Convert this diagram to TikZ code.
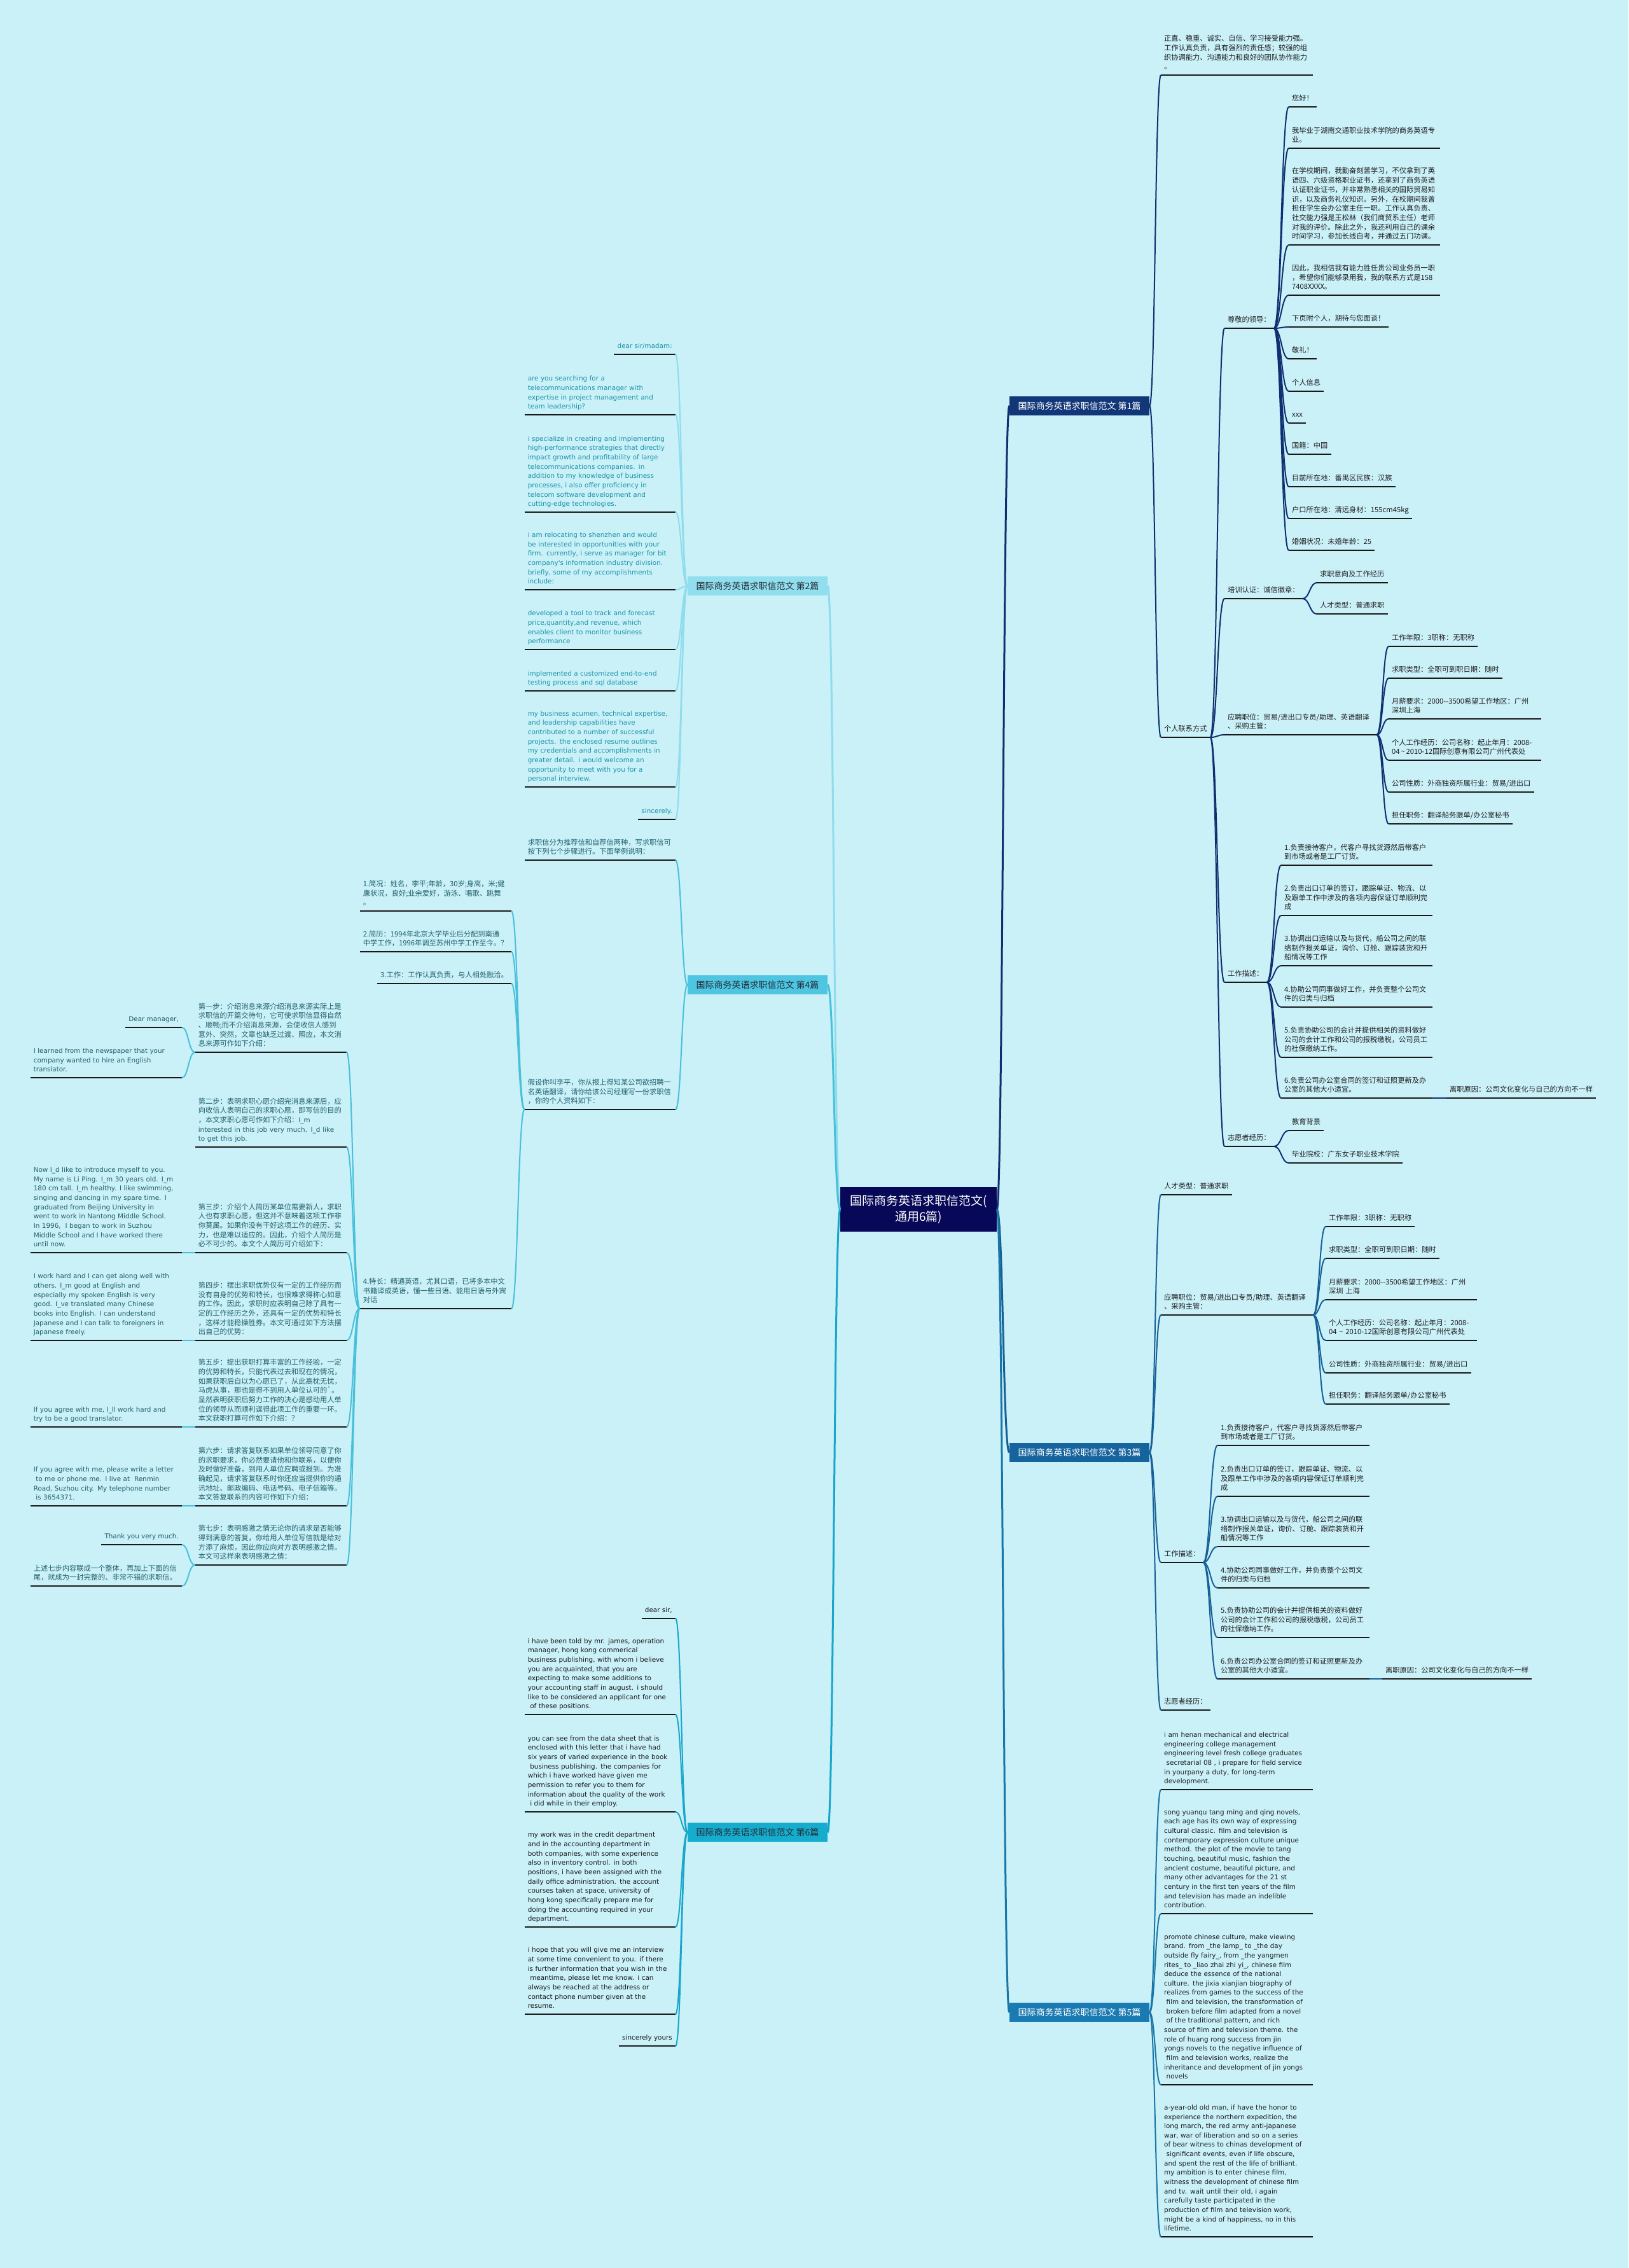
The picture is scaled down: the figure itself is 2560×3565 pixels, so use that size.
\documentclass[tikz,border=0pt]{standalone}
\usepackage{fontspec}
\setmainfont{DejaVu Sans}
\newfontfamily\cjk{Noto Sans CJK SC}
\newfontfamily\enf{DejaVu Sans}
\usetikzlibrary{calc}
\definecolor{bgc}{RGB}{202,240,248}
\definecolor{cen}{RGB}{8,8,88}
\definecolor{fA}{RGB}{18,55,120}
\definecolor{fC}{RGB}{22,100,158}
\definecolor{fE}{RGB}{26,122,178}
\definecolor{fB}{RGB}{145,222,238}
\definecolor{fD}{RGB}{78,197,225}
\definecolor{fF}{RGB}{22,172,206}
\definecolor{lA}{RGB}{14,48,112}
\definecolor{lC}{RGB}{22,96,152}
\definecolor{lE}{RGB}{24,118,168}
\definecolor{lB}{RGB}{142,220,236}
\definecolor{lD}{RGB}{72,192,218}
\definecolor{lF}{RGB}{24,166,202}
\definecolor{ulc}{RGB}{25,25,25}
\definecolor{tR}{RGB}{30,30,30}
\definecolor{tB}{RGB}{28,148,168}
\definecolor{tD}{RGB}{32,96,108}
\definecolor{tF}{RGB}{25,25,25}
\definecolor{tL}{RGB}{35,45,55}
\newcommand\lsp{\hspace*{3.5pt}}
\newcommand\EN{\enf\fontsize{10.4}{14.65}\selectfont}
\tikzset{
  zh/.style={font=\cjk\fontsize{11.25}{14.7}\selectfont},
  en/.style={font=\enf\fontsize{10.4}{14.65}\selectfont},
  tn/.style={inner xsep=5pt, inner ysep=6pt,
    execute at begin node={\hyphenpenalty=10000\exhyphenpenalty=10000},
    execute at end node={\rule[-3pt]{0pt}{3pt}}},
  R/.style={tn, anchor=south west, align=left},
  L/.style={tn, anchor=south east, align=left},
  Lr/.style={tn, anchor=south east, align=right},
  mm/.style={to path={let \p1=(\tikztostart), \p2=(\tikztotarget) in
      .. controls ({(\x1+\x2)/2},\y1) and ({(\x1+\x2)/2},\y2) .. (\tikztotarget)}},
  lk/.style={line width=2pt, mm},
  lkc/.style={line width=3pt, mm},
  ul/.style={line width=2pt, draw=ulc},
  lvl/.style={minimum width=220pt, minimum height=30pt, inner sep=0pt,
    font=\cjk\fontsize{14}{16}\selectfont},
}
\begin{document}
\begin{tikzpicture}[x=1pt,y=-1pt]
\fill[bgc] (0,0) rectangle (2560,3565);
\path[use as bounding box] (0,0) rectangle (2560,3565);

% ---------- centre and main branches ----------
\node[fill=cen, text=white, font=\cjk\fontsize{19}{25}\selectfont, minimum width=246pt,
  minimum height=70pt, inner sep=0pt, align=center] (C) at (1444,1901)
  {国际商务英语求职信范文(\\通用6篇)};
\node[lvl, fill=fA, text=white] (B1) at (1697,638) {国际商务英语求职信范文 第1篇};
\node[lvl, fill=fC, text=white] (B3) at (1697,2283) {国际商务英语求职信范文 第3篇};
\node[lvl, fill=fE, text=white] (B5) at (1697,3163) {国际商务英语求职信范文 第5篇};
\node[lvl, fill=fB, text=tL] (B2) at (1191,921) {国际商务英语求职信范文 第2篇};
\node[lvl, fill=fD, text=tL] (B4) at (1191,1548) {国际商务英语求职信范文 第4篇};
\node[lvl, fill=fF, text=tL] (B6) at (1191,2880) {国际商务英语求职信范文 第6篇};

% ---------- branch 1 ----------
\begin{scope}[every node/.append style={text=tR}]
\node[R,zh,text width=229pt] (a1) at (1825,118) {正直、稳重、诚实、自信、学习接受能力强。\\工作认真负责，具有强烈的责任感；较强的组\\织协调能力、沟通能力和良好的团队协作能力\\。};
\node[R,zh] (a2) at (1825,1159) {个人联系方式};
\node[R,zh] (a21) at (1925,516) {尊敬的领导：};
\node[R,zh] (a22) at (1925,941) {培训认证：诚信徽章：};
\node[R,zh,text width=229pt] (a23) at (1925,1155) {应聘职位：贸易/进出口专员/助理、英语翻译\\、采购主管：};
\node[R,zh] (a24) at (1925,1544) {工作描述：};
\node[R,zh] (a25) at (1925,1802) {志愿者经历：};

\node[R,zh] (z1) at (2026,168) {您好！};
\node[R,zh,text width=228pt] (z2) at (2026,233) {我毕业于湖南交通职业技术学院的商务英语专\\业。};
\node[R,zh,text width=228pt] (z3) at (2026,385) {在学校期间，我勤奋刻苦学习，不仅拿到了英\\语四、六级资格职业证书，还拿到了商务英语\\认证职业证书，并非常熟悉相关的国际贸易知\\识，以及商务礼仪知识。另外，在校期间我曾\\担任学生会办公室主任一职。工作认真负责、\\社交能力强是王松林（我们商贸系主任）老师\\对我的评价。除此之外，我还利用自己的课余\\时间学习，参加长线自考，并通过五门功课。};
\node[R,zh,text width=228pt] (z4) at (2026,464) {因此，我相信我有能力胜任贵公司业务员一职\\，希望你们能够录用我，我的联系方式是158\\7408XXXX。};
\node[R,zh] (z5) at (2026,514) {下页附个人，期待与您面谈！};
\node[R,zh] (z6) at (2026,564) {敬礼！};
\node[R,zh] (z7) at (2026,615) {个人信息};
\node[R,zh] (z8) at (2026,665) {xxx};
\node[R,zh] (z9) at (2026,714) {国籍：中国};
\node[R,zh] (z10) at (2026,765) {目前所在地：番禺区民族：汉族};
\node[R,zh] (z11) at (2026,815) {户口所在地：清远身材：155cm45kg};
\node[R,zh] (z12) at (2026,865) {婚姻状况：未婚年龄：25};

\node[R,zh] (p1) at (2070,916) {求职意向及工作经历};
\node[R,zh] (p2) at (2070,965) {人才类型：普通求职};

\node[R,zh] (q1) at (2183,1016) {工作年限：3职称：无职称};
\node[R,zh] (q2) at (2183,1066) {求职类型：全职可到职日期：随时};
\node[R,zh,text width=230pt] (q3) at (2183,1130) {月薪要求：2000-{}-3500希望工作地区：广州\\深圳上海};
\node[R,zh,text width=230pt] (q4) at (2183,1195) {个人工作经历：公司名称：起止年月：2008-\\04\,\textasciitilde\,2010-12国际创意有限公司广州代表处};
\node[R,zh] (q5) at (2183,1245) {公司性质：外商独资所属行业：贸易/进出口};
\node[R,zh] (q6) at (2183,1295) {担任职务：翻译船务跟单/办公室秘书};

\node[R,zh,text width=228pt] (w1) at (2014,1360) {1.负责接待客户，代客户寻找货源然后带客户\\到市场或者是工厂订货。};
\node[R,zh,text width=228pt] (w2) at (2014,1439) {2.负责出口订单的签订，跟踪单证、物流、以\\及跟单工作中涉及的各项内容保证订单顺利完\\成};
\node[R,zh,text width=228pt] (w3) at (2014,1518) {3.协调出口运输以及与货代，船公司之间的联\\络制作报关单证，询价、订舱、跟踪装货和开\\船情况等工作};
\node[R,zh,text width=228pt] (w4) at (2014,1583) {4.协助公司同事做好工作，并负责整个公司文\\件的归类与归档};
\node[R,zh,text width=228pt] (w5) at (2014,1662) {5.负责协助公司的会计并提供相关的资料做好\\公司的会计工作和公司的报税缴税，公司员工\\的社保缴纳工作。};
\node[R,zh,text width=228pt] (w6) at (2014,1726) {6.负责公司办公室合同的签订和证照更新及办\\公室的其他大小适宜。};
\node[R,zh] (w7) at (2274,1726) {离职原因：公司文化变化与自己的方向不一样};

\node[R,zh] (v1) at (2026,1777) {教育背景};
\node[R,zh] (v2) at (2026,1828) {毕业院校：广东女子职业技术学院};

% ---------- branch 3 ----------
\node[R,zh] (m1) at (1825,1878) {人才类型：普通求职};
\node[R,zh,text width=229pt] (m2) at (1825,2067) {应聘职位：贸易/进出口专员/助理、英语翻译\\、采购主管：};
\node[R,zh] (m3) at (1825,2456) {工作描述：};
\node[R,zh] (m4) at (1825,2688) {志愿者经历：};

\node[R,zh] (n1) at (2084,1928) {工作年限：3职称：无职称};
\node[R,zh] (n2) at (2084,1978) {求职类型：全职可到职日期：随时};
\node[R,zh,text width=228pt] (n3) at (2084,2043) {月薪要求：2000-{}-3500希望工作地区：广州\\深圳 上海};
\node[R,zh,text width=228pt] (n4) at (2084,2107) {个人工作经历：公司名称：起止年月：2008-\\04 \textasciitilde{} 2010-12国际创意有限公司广州代表处};
\node[R,zh] (n5) at (2084,2158) {公司性质：外商独资所属行业：贸易/进出口};
\node[R,zh] (n6) at (2084,2207) {担任职务：翻译船务跟单/办公室秘书};

\node[R,zh,text width=229pt] (o1) at (1914,2272) {1.负责接待客户，代客户寻找货源然后带客户\\到市场或者是工厂订货。};
\node[R,zh,text width=229pt] (o2) at (1914,2352) {2.负责出口订单的签订，跟踪单证、物流、以\\及跟单工作中涉及的各项内容保证订单顺利完\\成};
\node[R,zh,text width=229pt] (o3) at (1914,2431) {3.协调出口运输以及与货代，船公司之间的联\\络制作报关单证，询价、订舱、跟踪装货和开\\船情况等工作};
\node[R,zh,text width=229pt] (o4) at (1914,2496) {4.协助公司同事做好工作，并负责整个公司文\\件的归类与归档};
\node[R,zh,text width=229pt] (o5) at (1914,2574) {5.负责协助公司的会计并提供相关的资料做好\\公司的会计工作和公司的报税缴税，公司员工\\的社保缴纳工作。};
\node[R,zh,text width=229pt] (o6) at (1914,2639) {6.负责公司办公室合同的签订和证照更新及办\\公室的其他大小适宜。};
\node[R,zh] (o7) at (2173,2639) {离职原因：公司文化变化与自己的方向不一样};

% ---------- branch 5 ----------
\node[R,en,text width=229pt] (e1) at (1825,2813) {i am henan mechanical and electrical\\engineering college management\\engineering level fresh college graduates\\\lsp secretarial 08 , i prepare for field service\\in yourpany a duty, for long-term\\development.};
\node[R,en,text width=229pt] (e2) at (1825,3008) {song yuanqu tang ming and qing novels,\\each age has its own way of expressing\\cultural classic. film and television is\\contemporary expression culture unique\\method. the plot of the movie to tang\\touching, beautiful music, fashion the\\ancient costume, beautiful picture, and\\many other advantages for the 21 st\\century in the first ten years of the film\\and television has made an indelible\\contribution.};
\node[R,en,text width=229pt] (e3) at (1825,3277) {promote chinese culture, make viewing\\brand. from \_the lamp\_ to \_the day\\outside fly fairy\_, from \_the yangmen\\rites\_ to \_liao zhai zhi yi\_, chinese film\\deduce the essence of the national\\culture. the jixia xianjian biography of\\realizes from games to the success of the\\\lsp film and television, the transformation of\\\lsp broken before film adapted from a novel\\\lsp of the traditional pattern, and rich\\source of film and television theme. the\\role of huang rong success from jin\\yongs novels to the negative influence of\\\lsp film and television works, realize the\\inheritance and development of jin yongs\\\lsp novels};
\node[R,en,text width=229pt] (e4) at (1825,3516) {a-year-old old man, if have the honor to\\experience the northern expedition, the\\long march, the red army anti-japanese\\war, war of liberation and so on a series\\of bear witness to chinas development of\\\lsp significant events, even if life obscure,\\and spent the rest of the life of brilliant.\\my ambition is to enter chinese film,\\witness the development of chinese film\\and tv. wait until their old, i again\\carefully taste participated in the\\production of film and television work,\\might be a kind of happiness, no in this\\lifetime.};
\end{scope}

% ---------- branch 2 ----------
\begin{scope}[every node/.append style={text=tB}]
\node[Lr,en] (d1) at (1062,557) {dear sir/madam:};
\node[L,en,text width=227pt] (d2) at (1062,652) {are you searching for a\\telecommunications manager with\\expertise in project management and\\team leadership?};
\node[L,en,text width=227pt] (d3) at (1062,805) {i specialize in creating and implementing\\high-performance strategies that directly\\impact growth and profitability of large\\telecommunications companies. in\\addition to my knowledge of business\\processes, i also offer proficiency in\\telecom software development and\\cutting-edge technologies.};
\node[L,en,text width=227pt] (d4) at (1062,927) {i am relocating to shenzhen and would\\be interested in opportunities with your\\firm. currently, i serve as manager for bit\\company's information industry division.\\briefly, some of my accomplishments\\include:};
\node[L,en,text width=227pt] (d5) at (1062,1021) {developed a tool to track and forecast\\price,quantity,and revenue, which\\enables client to monitor business\\performance};
\node[L,en,text width=227pt] (d6) at (1062,1086) {implemented a customized end-to-end\\testing process and sql database};
\node[L,en,text width=227pt] (d7) at (1062,1237) {my business acumen, technical expertise,\\and leadership capabilities have\\contributed to a number of successful\\projects. the enclosed resume outlines\\my credentials and accomplishments in\\greater detail. i would welcome an\\opportunity to meet with you for a\\personal interview.};
\node[Lr,en] (d8) at (1062,1288) {sincerely.};
\end{scope}

% ---------- branch 4 ----------
\begin{scope}[every node/.append style={text=tD}]
\node[L,zh,text width=227pt] (f1) at (1062,1352) {求职信分为推荐信和自荐信两种，写求职信可\\按下列七个步骤进行。下面举例说明：};
\node[L,zh,text width=227pt] (f2) at (1062,1744) {假设你叫李平，你从报上得知某公司欲招聘一\\名英语翻译，请你给该公司经理写一份求职信\\，你的个人资料如下：};
\node[L,zh,text width=228pt] (f21) at (804,1432) {1.简况：姓名，李平;年龄，30岁;身高，米;健\\康状况，良好;业余爱好，游泳、唱歌、跳舞\\。};
\node[L,zh,text width=228pt] (f22) at (804,1496) {2.简历：1994年北京大学毕业后分配到南通\\中学工作，1996年调至苏州中学工作至今。？};
\node[Lr,zh] (f23) at (804,1546) {3.工作：工作认真负责，与人相处融洽。};
\node[L,zh,text width=228pt] (f24) at (804,2057) {4.特长：精通英语，尤其口语，已将多本中文\\书籍译成英语，懂一些日语、能用日语与外宾\\对话};

\node[L,zh,text width=228pt] (s1) at (545,1654) {第一步：介绍消息来源介绍消息来源实际上是\\求职信的开篇交待句，它可使求职信显得自然\\、顺畅;而不介绍消息来源，会使收信人感到\\意外、突然，文章也缺乏过渡、照应，本文消\\息来源可作如下介绍：};
\node[L,zh,text width=228pt] (s2) at (545,1803) {第二步：表明求职心愿介绍完消息来源后，应\\向收信人表明自己的求职心愿，即写信的目的\\，本文求职心愿可作如下介绍：{\EN I\_m}\\{\EN interested in this job very much. I\_d like}\\{\EN to get this job.}};
\node[L,zh,text width=228pt] (s3) at (545,1969) {第三步：介绍个人简历某单位需要新人，求职\\人也有求职心愿，但这并不意味着这项工作非\\你莫属。如果你没有干好这项工作的经历、实\\力，也是难以适应的。因此，介绍个人简历是\\必不可少的。本文个人简历可介绍如下：};
\node[L,zh,text width=228pt] (s4) at (545,2107) {第四步：摆出求职优势仅有一定的工作经历而\\没有自身的优势和特长，也很难求得称心如意\\的工作。因此，求职时应表明自己除了具有一\\定的工作经历之外，还具有一定的优势和特长\\，这样才能稳操胜券。本文可通过如下方法摆\\出自己的优势：};
\node[L,zh,text width=228pt] (s5) at (545,2243) {第五步：提出获职打算丰富的工作经验，一定\\的优势和特长，只能代表过去和现在的情况，\\如果获职后自以为心愿已了，从此高枕无忧，\\马虎从事，那也是得不到用人单位认可的\textasciigrave。\\显然表明获职后努力工作的决心是感动用人单\\位的领导从而顺利谋得此项工作的重要一环。\\本文获职打算可作如下介绍：？};
\node[L,zh,text width=228pt] (s6) at (545,2367) {第六步：请求答复联系如果单位领导同意了你\\的求职要求，你必然要请他和你联系，以便你\\及时做好准备，到用人单位应聘或报到。为准\\确起见，请求答复联系时你还应当提供你的通\\讯地址、邮政编码、电话号码、电子信箱等。\\本文答复联系的内容可作如下介绍：};
\node[L,zh,text width=228pt] (s7) at (545,2460) {第七步：表明感激之情无论你的请求是否能够\\得到满意的答复，你给用人单位写信就是给对\\方添了麻烦，因此你应向对方表明感激之情。\\本文可这样来表明感激之情：};

\node[Lr,en] (s11) at (286,1615) {Dear manager,};
\node[L,en,text width=228pt] (s12) at (286,1694) {I learned from the newspaper that your\\company wanted to hire an English\\translator.};
\node[L,en,text width=228pt] (s31) at (286,1969) {Now I\_d like to introduce myself to you.\\My name is Li Ping. I\_m 30 years old. I\_m\\180 cm tall. I\_m healthy. I like swimming,\\singing and dancing in my spare time. I\\graduated from Beijing University in\\went to work in Nantong Middle School.\\In 1996,\ \ I began to work in Suzhou\\Middle School and I have worked there\\until now.};
\node[L,en,text width=228pt] (s41) at (286,2107) {I work hard and I can get along well with\\others. I\_m good at English and\\especially my spoken English is very\\good. I\_ve translated many Chinese\\books into English. I can understand\\Japanese and I can talk to foreigners in\\Japanese freely.};
\node[L,en,text width=228pt] (s51) at (286,2243) {If you agree with me, I\_ll work hard and\\try to be a good translator.};
\node[L,en,text width=228pt] (s61) at (286,2367) {If you agree with me, please write a letter\\\lsp to me or phone me. I live at\ \ Renmin\\Road, Suzhou city. My telephone number\\\lsp is 3654371.};
\node[Lr,en] (s71) at (286,2428) {Thank you very much.};
\node[L,zh,text width=228pt] (s72) at (286,2493) {上述七步内容联成一个整体，再加上下面的信\\尾，就成为一封完整的、非常不错的求职信。};
\end{scope}

% ---------- branch 6 ----------
\begin{scope}[every node/.append style={text=tF}]
\node[Lr,en] (g1) at (1062,2544) {dear sir,};
\node[L,en,text width=227pt] (g2) at (1062,2695) {i have been told by mr. james, operation\\manager, hong kong commerical\\business publishing, with whom i believe\\you are acquainted, that you are\\expecting to make some additions to\\your accounting staff in august. i should\\like to be considered an applicant for one\\\lsp of these positions.};
\node[L,en,text width=227pt] (g3) at (1062,2848) {you can see from the data sheet that is\\enclosed with this letter that i have had\\six years of varied experience in the book\\\lsp business publishing. the companies for\\which i have worked have given me\\permission to refer you to them for\\information about the quality of the work\\\lsp i did while in their employ.};
\node[L,en,text width=227pt] (g4) at (1062,3029) {my work was in the credit department\\and in the accounting department in\\both companies, with some experience\\also in inventory control. in both\\positions, i have been assigned with the\\daily office administration. the account\\courses taken at space, university of\\hong kong specifically prepare me for\\doing the accounting required in your\\department.};
\node[L,en,text width=227pt] (g5) at (1062,3166) {i hope that you will give me an interview\\at some time convenient to you. if there\\is further information that you wish in the\\\lsp meantime, please let me know. i can\\always be reached at the address or\\contact phone number given at the\\resume.};
\node[Lr,en] (g6) at (1062,3216) {sincerely yours};
\end{scope}

% ---------- underlines ----------
\foreach \n in {a1,a2,a21,a22,a23,a24,a25,z1,z2,z3,z4,z5,z6,z7,z8,z9,z10,z11,z12,p1,p2,q1,q2,q3,q4,q5,q6,w1,w2,w3,w4,w5,w6,w7,v1,v2,m1,m2,m3,m4,n1,n2,n3,n4,n5,n6,o1,o2,o3,o4,o5,o6,o7,e1,e2,e3,e4,d1,d2,d3,d4,d5,d6,d7,d8,f1,f2,f21,f22,f23,f24,s1,s2,s3,s4,s5,s6,s7,s11,s12,s31,s41,s51,s61,s71,s72,g1,g2,g3,g4,g5,g6}
  \draw[ul] (\n.south west) -- (\n.south east);

% ---------- connectors ----------
\draw[lkc, draw=lA] (C.east) to (B1.west);
\draw[lkc, draw=lC] (C.east) to (B3.west);
\draw[lkc, draw=lE] (C.east) to (B5.west);
\draw[lkc, draw=lB] (C.west) to (B2.east);
\draw[lkc, draw=lD] (C.west) to (B4.east);
\draw[lkc, draw=lF] (C.west) to (B6.east);

\foreach \t in {a1,a2} \draw[lk, draw=lA] (B1.east) to (\t.south west);
\foreach \t in {a21,a22,a23,a24,a25} \draw[lk, draw=lA] (a2.south east) to (\t.south west);
\foreach \t in {z1,z2,z3,z4,z5,z6,z7,z8,z9,z10,z11,z12} \draw[lk, draw=lA] (a21.south east) to (\t.south west);
\foreach \t in {p1,p2} \draw[lk, draw=lA] (a22.south east) to (\t.south west);
\foreach \t in {q1,q2,q3,q4,q5,q6} \draw[lk, draw=lA] (a23.south east) to (\t.south west);
\foreach \t in {w1,w2,w3,w4,w5,w6} \draw[lk, draw=lA] (a24.south east) to (\t.south west);
\draw[lk, draw=lA] (w6.south east) to (w7.south west);
\foreach \t in {v1,v2} \draw[lk, draw=lA] (a25.south east) to (\t.south west);

\foreach \t in {m1,m2,m3,m4} \draw[lk, draw=lC] (B3.east) to (\t.south west);
\foreach \t in {n1,n2,n3,n4,n5,n6} \draw[lk, draw=lC] (m2.south east) to (\t.south west);
\foreach \t in {o1,o2,o3,o4,o5,o6} \draw[lk, draw=lC] (m3.south east) to (\t.south west);
\draw[lk, draw=lC] (o6.south east) to (o7.south west);

\foreach \t in {e1,e2,e3,e4} \draw[lk, draw=lE] (B5.east) to (\t.south west);

\foreach \t in {d1,d2,d3,d4,d5,d6,d7,d8} \draw[lk, draw=lB] (B2.west) to (\t.south east);

\foreach \t in {f1,f2} \draw[lk, draw=lD] (B4.west) to (\t.south east);
\foreach \t in {f21,f22,f23,f24} \draw[lk, draw=lD] (f2.south west) to (\t.south east);
\foreach \t in {s1,s2,s3,s4,s5,s6,s7} \draw[lk, draw=lD] (f24.south west) to (\t.south east);
\foreach \t in {s11,s12} \draw[lk, draw=lD] (s1.south west) to (\t.south east);
\draw[lk, draw=lD] (s3.south west) to (s31.south east);
\draw[lk, draw=lD] (s4.south west) to (s41.south east);
\draw[lk, draw=lD] (s5.south west) to (s51.south east);
\draw[lk, draw=lD] (s6.south west) to (s61.south east);
\foreach \t in {s71,s72} \draw[lk, draw=lD] (s7.south west) to (\t.south east);

\foreach \t in {g1,g2,g3,g4,g5,g6} \draw[lk, draw=lF] (B6.west) to (\t.south east);
\end{tikzpicture}
\end{document}
